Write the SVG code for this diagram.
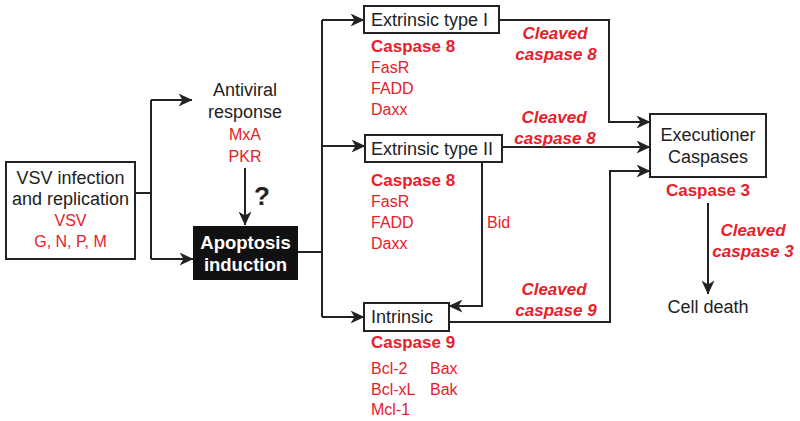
<svg xmlns="http://www.w3.org/2000/svg" width="800" height="421" viewBox="0 0 800 421">
<style>
.bk{font-family:"Liberation Sans",Arial,sans-serif;font-size:18px;fill:#222}
.rd{font-family:"Liberation Sans",Arial,sans-serif;font-size:16px;fill:#e8202a}
.rb{font-family:"Liberation Sans",Arial,sans-serif;font-size:17px;font-weight:bold;fill:#e8202a}
.ri{font-family:"Liberation Sans",Arial,sans-serif;font-size:17px;font-weight:bold;font-style:italic;fill:#e8202a}
.box{fill:#fff;stroke:#222;stroke-width:2}
.ln{fill:none;stroke:#222;stroke-width:2}
.c{text-anchor:middle}
</style>
<defs>
<marker id="ah" viewBox="0 0 14 13" refX="13.5" refY="6.5" markerWidth="14" markerHeight="13" markerUnits="userSpaceOnUse" orient="auto">
<path d="M0,0 L14,6.5 L0,13 L4,6.5 z" fill="#222"/>
</marker>
</defs>
<rect width="800" height="421" fill="#fff"/>
<g id="connectors">
<path class="ln" d="M135,193 H151"/>
<path class="ln" d="M151,100 V259"/>
<path class="ln" d="M151,100 H192" marker-end="url(#ah)"/>
<path class="ln" d="M151,259 H193" marker-end="url(#ah)"/>
<path class="ln" d="M245,168 V225" marker-end="url(#ah)"/>
<path class="ln" d="M298,252 H322"/>
<path class="ln" d="M322,20 V317"/>
<path class="ln" d="M322,20 H364" marker-end="url(#ah)"/>
<path class="ln" d="M322,146 H365" marker-end="url(#ah)"/>
<path class="ln" d="M322,317 H364" marker-end="url(#ah)"/>
<path class="ln" d="M499,20 H609 V122 H650" marker-end="url(#ah)"/>
<path class="ln" d="M502,147 H650" marker-end="url(#ah)"/>
<path class="ln" d="M482,162 V306 H449" marker-end="url(#ah)"/>
<path class="ln" d="M449,322 H610 V171 H650" marker-end="url(#ah)"/>
<path class="ln" d="M708,203 V294" marker-end="url(#ah)"/>
</g>
<g id="vsv">
<rect class="box" x="6" y="162" width="129" height="97"/>
<text class="bk c" x="70.5" y="184">VSV infection</text>
<text class="bk c" x="70.5" y="205">and replication</text>
<text class="rd c" x="70.5" y="226">VSV</text>
<text class="rd c" x="70.5" y="247">G, N, P, M</text>
</g>
<g id="antiviral">
<text class="bk c" x="245" y="96">Antiviral</text>
<text class="bk c" x="245" y="118">response</text>
<text class="rd c" x="245" y="140">MxA</text>
<text class="rd c" x="245" y="162">PKR</text>
</g>
<text x="262" y="205" style="font-family:'Liberation Sans',Arial,sans-serif;font-size:26px;font-weight:bold;fill:#222" class="c">?</text>
<g id="apoptosis">
<rect x="193" y="226" width="105" height="54" fill="#111"/>
<text class="c" x="245.5" y="249" style="font-family:'Liberation Sans',Arial,sans-serif;font-size:18.5px;font-weight:bold;fill:#fff">Apoptosis</text>
<text class="c" x="245.5" y="271" style="font-family:'Liberation Sans',Arial,sans-serif;font-size:18.5px;font-weight:bold;fill:#fff">induction</text>
</g>
<g id="ext1">
<rect class="box" x="364" y="6" width="135" height="27"/>
<text class="bk" x="371" y="26">Extrinsic type I</text>
<text class="rb" x="371" y="52">Caspase 8</text>
<text class="rd" x="371" y="73">FasR</text>
<text class="rd" x="371" y="94">FADD</text>
<text class="rd" x="371" y="115">Daxx</text>
</g>
<g id="ext2">
<rect class="box" x="365" y="135" width="137" height="27"/>
<text class="bk" x="371" y="155">Extrinsic type II</text>
<text class="rb" x="371" y="186">Caspase 8</text>
<text class="rd" x="371" y="207">FasR</text>
<text class="rd" x="371" y="228">FADD</text>
<text class="rd" x="371" y="249">Daxx</text>
<text class="rd" x="487" y="228">Bid</text>
</g>
<g id="intrinsic">
<rect class="box" x="364" y="303" width="85" height="28"/>
<text class="bk" x="371" y="323">Intrinsic</text>
<text class="rb" x="371" y="348">Caspase 9</text>
<text class="rd" x="371" y="374">Bcl-2</text>
<text class="rd" x="371" y="395">Bcl-xL</text>
<text class="rd" x="371" y="415">Mcl-1</text>
<text class="rd" x="430" y="374">Bax</text>
<text class="rd" x="430" y="395">Bak</text>
</g>
<g id="labels">
<text class="ri c" x="555" y="39">Cleaved</text>
<text class="ri c" x="556" y="60">caspase 8</text>
<text class="ri c" x="554" y="123">Cleaved</text>
<text class="ri c" x="555" y="144">caspase 8</text>
<text class="ri c" x="554" y="295">Cleaved</text>
<text class="ri c" x="556" y="316">caspase 9</text>
<text class="ri c" x="753" y="236">Cleaved</text>
<text class="ri c" x="753" y="257">caspase 3</text>
</g>
<g id="executioner">
<rect class="box" x="650" y="114" width="116" height="63"/>
<text class="bk c" x="708" y="141">Executioner</text>
<text class="bk c" x="708" y="163">Caspases</text>
<text class="rb c" x="708" y="196">Caspase 3</text>
</g>
<g id="celldeath">
<text class="bk c" x="708" y="313">Cell death</text>
</g>
</svg>
